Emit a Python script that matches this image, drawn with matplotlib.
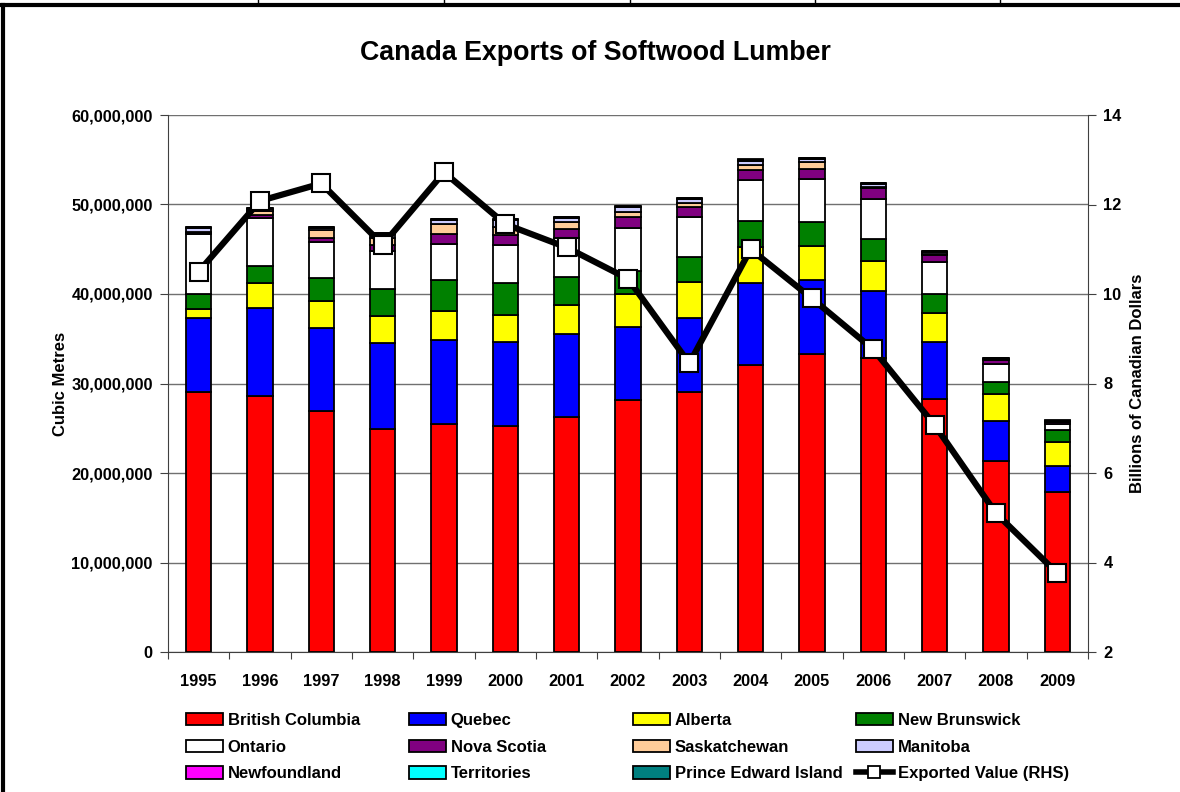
import matplotlib
matplotlib.use("Agg")
import matplotlib.pyplot as plt
import numpy as np
from matplotlib.patches import Patch
from matplotlib.lines import Line2D

plt.rcParams["font.family"] = ["Liberation Sans", "DejaVu Sans"]
plt.rcParams["font.weight"] = "bold"
plt.rcParams["axes.labelweight"] = "bold"

years = ["1995", "1996", "1997", "1998", "1999", "2000", "2001", "2002",
         "2003", "2004", "2005", "2006", "2007", "2008", "2009"]

# exports by province, millions of cubic metres
british_columbia = [29.1, 28.6, 26.9, 24.9, 25.5, 25.3, 26.3, 28.2, 29.0, 32.1, 33.3, 32.9, 28.3, 21.3, 17.9]
quebec = [8.2, 9.8, 9.3, 9.6, 9.4, 9.3, 9.2, 8.1, 8.3, 9.1, 8.3, 7.4, 6.3, 4.5, 2.9]
alberta = [1.0, 2.8, 3.0, 3.0, 3.2, 3.1, 3.3, 3.7, 4.0, 4.0, 3.8, 3.4, 3.3, 3.0, 2.7]
new_brunswick = [1.7, 1.9, 2.6, 3.1, 3.5, 3.5, 3.1, 2.6, 2.8, 3.0, 2.7, 2.4, 2.1, 1.4, 1.3]
ontario = [6.7, 5.4, 4.0, 4.2, 4.0, 4.3, 4.4, 4.8, 4.5, 4.5, 4.8, 4.5, 3.6, 2.0, 0.7]
nova_scotia = [0.15, 0.3, 0.5, 0.7, 1.1, 1.1, 1.0, 1.2, 1.1, 1.2, 1.1, 1.2, 0.8, 0.4, 0.25]
saskatchewan = [0.1, 0.5, 0.8, 0.8, 1.1, 0.9, 0.7, 0.6, 0.5, 0.5, 0.7, 0.2, 0.1, 0.05, 0.02]
manitoba = [0.45, 0.2, 0.3, 0.4, 0.5, 0.8, 0.5, 0.5, 0.4, 0.5, 0.4, 0.3, 0.2, 0.05, 0.02]
newfoundland = [0.05, 0.06, 0.06, 0.05, 0.06, 0.05, 0.06, 0.06, 0.06, 0.06, 0.06, 0.06, 0.08, 0.1, 0.05]
territories = [0.02, 0.02, 0.02, 0.02, 0.02, 0.02, 0.02, 0.02, 0.02, 0.02, 0.02, 0.02, 0.02, 0.02, 0.01]
pei = [0.05, 0.05, 0.05, 0.05, 0.05, 0.05, 0.05, 0.05, 0.05, 0.05, 0.05, 0.05, 0.05, 0.05, 0.03]

# exported value, billions of CAD
exported_value = [10.50, 12.08, 12.47, 11.10, 12.72, 11.56, 11.04, 10.34,
                  8.45, 11.00, 9.90, 8.76, 7.07, 5.10, 3.76]

series = [
    ("British Columbia", british_columbia, "#FF0000"),
    ("Quebec", quebec, "#0000FF"),
    ("Alberta", alberta, "#FFFF00"),
    ("New Brunswick", new_brunswick, "#008000"),
    ("Ontario", ontario, "#FFFFFF"),
    ("Nova Scotia", nova_scotia, "#800080"),
    ("Saskatchewan", saskatchewan, "#FFCC99"),
    ("Manitoba", manitoba, "#CCCCFF"),
    ("Newfoundland", newfoundland, "#FF00FF"),
    ("Territories", territories, "#00FFFF"),
    ("Prince Edward Island", pei, "#008080"),
]

fig = plt.figure(figsize=(11.8, 7.92), dpi=100)
ax = fig.add_axes([168 / 1180, 1 - 652 / 792, 920 / 1180, 537 / 792])

x = np.arange(len(years))
bottom = np.zeros(len(years))
for name, vals, color in series:
    v = np.array(vals) * 1e6
    ax.bar(x, v, 0.41, bottom=bottom, color=color, edgecolor="black",
           linewidth=1.3, label=name, zorder=3)
    bottom += v

ax.set_xlim(-0.5, len(years) - 0.5)
ax.set_ylim(0, 60e6)
ax.set_yticks(np.arange(0, 60e6 + 1, 10e6))
ax.set_yticklabels([f"{int(t):,}" for t in np.arange(0, 60e6 + 1, 10e6)], fontsize=11.8)
ax.yaxis.grid(True, color="#707070", linewidth=1)
ax.set_axisbelow(True)
ax.set_xticks(np.arange(-0.5, len(years), 1))
ax.set_xticklabels([])
ax.set_xticks(x, minor=True)
ax.set_xticklabels(years, minor=True, fontsize=11.8)
ax.tick_params(axis="x", which="major", length=5, direction="out", color="#404040")
ax.tick_params(axis="x", which="minor", length=0, pad=16)
ax.tick_params(axis="y", length=6, direction="out", color="#404040", pad=5)
ax.spines["top"].set_visible(False)
ax.spines["right"].set_visible(False)
ax.spines["left"].set_color("#404040")
ax.spines["bottom"].set_color("#404040")
ax.set_ylabel("Cubic Metres", fontsize=12, labelpad=2)

ax2 = ax.twinx()
ax2.plot(x, exported_value, color="black", linewidth=4.5, marker="s",
         markersize=13, markerfacecolor="white", markeredgecolor="black",
         markeredgewidth=1.5, zorder=5)
ax2.set_ylim(2, 14)
ax2.set_yticks(np.arange(2, 15, 2))
ax2.tick_params(axis="y", length=6, direction="out", color="#404040", labelsize=11.8, pad=5)
for s in ["top", "left", "bottom"]:
    ax2.spines[s].set_visible(False)
ax2.spines["right"].set_color("#404040")
ax2.set_ylabel("Billions of Canadian Dollars", fontsize=12, labelpad=6)

fig.text(595 / 1180, 1 - 53 / 792, "Canada Exports of Softwood Lumber",
         ha="center", va="center", fontsize=19.3, fontweight="bold")

# legend: four columns laid out on a fixed grid
handles = [Patch(facecolor=c, edgecolor="black", linewidth=1.3) for _, _, c in series]
labels = [n for n, _, _ in series]
handles.append(Line2D([0], [0], color="black", linewidth=4, marker="s", markersize=9,
                      markerfacecolor="white", markeredgecolor="black", markeredgewidth=1.3))
labels.append("Exported Value (RHS)")

col_x = [186, 409, 633, 856]
for c in range(4):
    idx = [c, c + 4, c + 8]
    fig.legend([handles[i] for i in idx], [labels[i] for i in idx],
               loc="upper left", bbox_to_anchor=(col_x[c] / 1180, 1 - 713 / 792),
               frameon=False, fontsize=12, handlelength=2.2, handleheight=0.75,
               handletextpad=0.3, labelspacing=0.7, borderpad=0, borderaxespad=0)

# frame of the chart object and the spreadsheet row above it
border = dict(color="black", transform=fig.transFigure, clip_on=False)
fig.add_artist(Line2D([0, 1], [1 - 5 / 792, 1 - 5 / 792], linewidth=3, **border))
fig.add_artist(Line2D([3 / 1180, 3 / 1180], [0, 1 - 5 / 792], linewidth=3, **border))
for cx in [258, 444, 630, 815, 1000]:
    fig.add_artist(Line2D([cx / 1180, cx / 1180], [1 - 5 / 792, 1], linewidth=1, **border))

fig.savefig("out.png", dpi=100)
